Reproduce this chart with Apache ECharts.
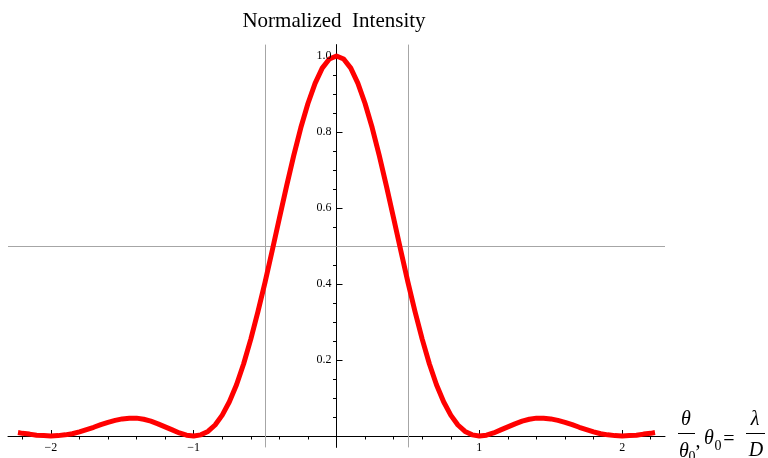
<!DOCTYPE html>
<html>
<head>
<meta charset="utf-8">
<script src="https://cdn.jsdelivr.net/npm/echarts@6/dist/echarts.min.js"></script>
<style>
  html, body { margin: 0; padding: 0; background: #fff; }
  #chart { width: 768px; height: 458px; }
</style>
</head>
<body>
<div id="chart"></div>
<script>
// Angle in units of theta0 (theta / theta0)
const thetaRatio = [
  -2.23, -2.2, -2.15, -2.1, -2.05, -2, -1.95, -1.9, -1.85, -1.8, -1.75, -1.7, -1.65, -1.6, -1.55,
  -1.5, -1.45, -1.4, -1.35, -1.3, -1.25, -1.2, -1.15, -1.1, -1.05, -1, -0.95, -0.9, -0.85, -0.8,
  -0.75, -0.7, -0.65, -0.6, -0.55, -0.5, -0.45, -0.4, -0.35, -0.3, -0.25, -0.2, -0.15, -0.1, -0.05,
  0,
  0.05, 0.1, 0.15, 0.2, 0.25, 0.3, 0.35, 0.4, 0.45, 0.5, 0.55, 0.6, 0.65, 0.7, 0.75,
  0.8, 0.85, 0.9, 0.95, 1, 1.05, 1.1, 1.15, 1.2, 1.25, 1.3, 1.35, 1.4, 1.45, 1.5,
  1.55, 1.6, 1.65, 1.7, 1.75, 1.8, 1.85, 1.9, 1.95, 2, 2.05, 2.1, 2.15, 2.2, 2.23
];

// Normalized intensity at each angle
const intensity = [
  0.009, 0.007, 0.005, 0.002, 0.001, 0.000, 0.001, 0.003, 0.006, 0.011, 0.017, 0.023, 0.030, 0.036, 0.041,
  0.045, 0.047, 0.047, 0.044, 0.039, 0.032, 0.024, 0.016, 0.008, 0.002, 0.000, 0.003, 0.012, 0.029, 0.055,
  0.090, 0.135, 0.190, 0.255, 0.327, 0.405, 0.488, 0.573, 0.657, 0.737, 0.811, 0.875, 0.928, 0.968, 0.992,
  1.000,
  0.992, 0.968, 0.928, 0.875, 0.811, 0.737, 0.657, 0.573, 0.488, 0.405, 0.327, 0.255, 0.190, 0.135, 0.090,
  0.055, 0.029, 0.012, 0.003, 0.000, 0.002, 0.008, 0.016, 0.024, 0.032, 0.039, 0.044, 0.047, 0.047, 0.045,
  0.041, 0.036, 0.030, 0.023, 0.017, 0.011, 0.006, 0.003, 0.001, 0.000, 0.001, 0.002, 0.005, 0.007, 0.009
];

// Tick positions and labels
const xMajorTicks = [-2, -1, 1, 2];
const xTickLabels = ['\u22122', '\u22121', '1', '2'];
const xMinorTicks = [-2.2, -1.8, -1.6, -1.4, -1.2, -0.8, -0.6, -0.4, -0.2,
                     0.2, 0.4, 0.6, 0.8, 1.2, 1.4, 1.6, 1.8, 2.2];
const yMajorTicks = [0.2, 0.4, 0.6, 0.8, 1.0];
const yTickLabels = ['0.2', '0.4', '0.6', '0.8', '1.0'];
const yMinorTicks = [0.05, 0.1, 0.15, 0.25, 0.3, 0.35, 0.45, 0.5, 0.55, 0.65, 0.7, 0.75,
                     0.85, 0.9, 0.95];

// Reference grid lines
const halfMaxLevel = 0.5;
const halfWidthMarks = [-0.5, 0.5];

const X_RANGE = [-2.3, 2.3];
const Y_RANGE = [-0.03, 1.03];
const SERIF = 'Liberation Serif';

const chart = echarts.init(document.getElementById('chart'), null, { renderer: 'canvas' });

function xAxisDef(ticks, len, showLine, yIdx) {
  return {
    type: 'value', min: X_RANGE[0], max: X_RANGE[1],
    axisLine: { show: showLine, onZero: true, onZeroAxisIndex: yIdx,
                lineStyle: { color: '#000', width: 1 } },
    axisTick: { show: true, inside: true, length: len, customValues: ticks,
                lineStyle: { color: '#000', width: 1 } },
    axisLabel: { show: false },
    splitLine: { show: false }
  };
}

function yAxisDef(ticks, len, showLine, xIdx) {
  return {
    type: 'value', min: Y_RANGE[0], max: Y_RANGE[1],
    axisLine: { show: showLine, onZero: true, onZeroAxisIndex: xIdx,
                lineStyle: { color: '#000', width: 1 } },
    axisTick: { show: true, inside: true, length: len, customValues: ticks,
                lineStyle: { color: '#000', width: 1 } },
    axisLabel: { show: false },
    splitLine: { show: false }
  };
}

const axisNameFont = 'italic 20px "Liberation Serif"';
const staticGraphics = [
  { type: 'text', style: { text: 'Normalized  Intensity', x: 334, y: 21, align: 'center', verticalAlign: 'middle',
             font: '21px "Liberation Serif"', fill: '#000' } },
  // axis name: theta/theta0, theta0 = lambda/D
  { type: 'text', style: { text: '\u03B8', x: 686, y: 420, align: 'center', verticalAlign: 'middle',
      font: axisNameFont, fill: '#000' } },
  { type: 'line', shape: { x1: 678, y1: 433.5, x2: 695, y2: 433.5 }, style: { stroke: '#000', lineWidth: 1 } },
  { type: 'text', style: { text: '\u03B8', x: 684, y: 452, align: 'center', verticalAlign: 'middle',
      font: axisNameFont, fill: '#000' } },
  { type: 'text', style: { text: '0', x: 692, y: 457, align: 'center', verticalAlign: 'middle',
      font: '14px "Liberation Serif"', fill: '#000' } },
  { type: 'text', style: { text: ',', x: 698, y: 442, align: 'center', verticalAlign: 'middle',
      font: '20px "Liberation Serif"', fill: '#000' } },
  { type: 'text', style: { text: '\u03B8', x: 709, y: 439, align: 'center', verticalAlign: 'middle',
      font: axisNameFont, fill: '#000' } },
  { type: 'text', style: { text: '0', x: 718, y: 446, align: 'center', verticalAlign: 'middle',
      font: '14px "Liberation Serif"', fill: '#000' } },
  { type: 'text', style: { text: '=', x: 729, y: 440, align: 'center', verticalAlign: 'middle',
      font: '20px "Liberation Serif"', fill: '#000' } },
  { type: 'text', style: { text: '\u03BB', x: 755, y: 420, align: 'center', verticalAlign: 'middle',
      font: axisNameFont, fill: '#000' } },
  { type: 'line', shape: { x1: 746, y1: 433.5, x2: 765, y2: 433.5 }, style: { stroke: '#000', lineWidth: 1 } },
  { type: 'text', style: { text: 'D', x: 756, y: 451, align: 'center', verticalAlign: 'middle',
      font: axisNameFont, fill: '#000' } }
];

chart.setOption({
  animation: false,
  backgroundColor: '#fff',
  grid: { left: 8, right: 103, top: 44.6, bottom: 10.6, containLabel: false, outerBoundsMode: 'none' },
  xAxis: [
    xAxisDef(xMajorTicks, 6, true, 0),
    xAxisDef(xMinorTicks, 3.5, false, 1)
  ],
  yAxis: [
    yAxisDef(yMajorTicks, 6, true, 0),
    yAxisDef(yMinorTicks, 3.5, false, 1)
  ],
  series: [{
    type: 'line',
    xAxisIndex: 0, yAxisIndex: 0,
    data: thetaRatio.map((t, i) => [t, intensity[i]]),
    showSymbol: false,
    lineStyle: { color: '#ff0000', width: 5, join: 'round', cap: 'butt' },
    z: 5,
    markLine: {
      silent: true, symbol: 'none', label: { show: false },
      lineStyle: { color: '#a6a6a6', width: 1, type: 'solid' },
      data: [
        { yAxis: halfMaxLevel },
        ...halfWidthMarks.map(v => ({ xAxis: v }))
      ],
      z: 1
    }
  }],
  graphic: staticGraphics
});

// Tick labels sit beside the axes that cross at the origin
const origin = chart.convertToPixel({ xAxisIndex: 0, yAxisIndex: 0 }, [0, 0]);
const tickLabelFont = '12px "Liberation Serif"';
const tickLabels = [];
xMajorTicks.forEach((v, i) => {
  const px = chart.convertToPixel({ xAxisIndex: 0 }, v);
  tickLabels.push({ type: 'text', z: 10, style: { text: xTickLabels[i], x: px, y: origin[1] + 6,
    align: 'center', verticalAlign: 'top', font: tickLabelFont, fill: '#000' } });
});
yMajorTicks.forEach((v, i) => {
  const py = chart.convertToPixel({ yAxisIndex: 0 }, v);
  tickLabels.push({ type: 'text', z: 10, style: { text: yTickLabels[i], x: origin[0] - 5, y: py,
    align: 'right', verticalAlign: 'middle', font: tickLabelFont, fill: '#000' } });
});
chart.setOption({ graphic: staticGraphics.concat(tickLabels) }, { replaceMerge: ['graphic'] });
</script>
</body>
</html>
